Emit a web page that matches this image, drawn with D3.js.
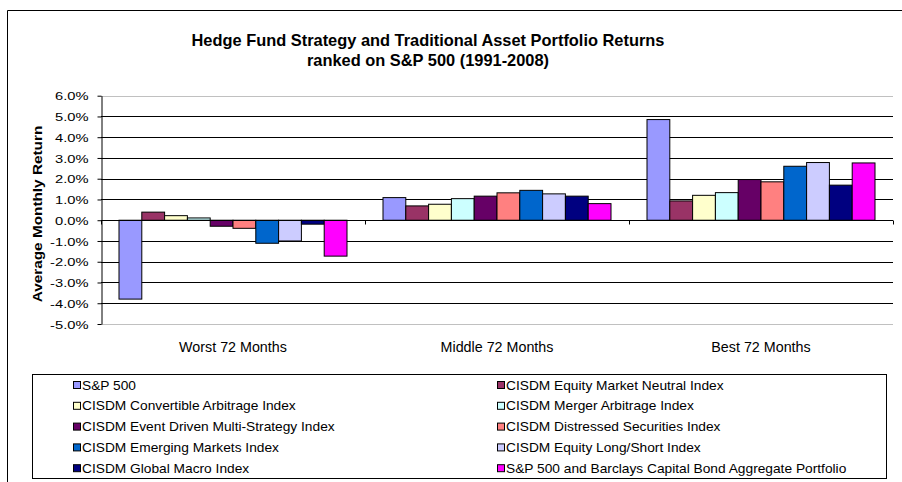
<!DOCTYPE html>
<html>
<head>
<meta charset="utf-8">
<script src="https://cdn.jsdelivr.net/npm/d3@7"></script>
<style>
  body { margin: 0; background: #fff; }
  svg { display: block; font-family: "Liberation Sans", Arial, sans-serif; }
</style>
</head>
<body>
<script>
// categories and series, values in % average monthly return
const categories = ["Worst 72 Months", "Middle 72 Months", "Best 72 Months"];
const seriesNames = [
  "S&P 500",
  "CISDM Equity Market Neutral Index",
  "CISDM Convertible Arbitrage Index",
  "CISDM Merger Arbitrage Index",
  "CISDM Event Driven Multi-Strategy Index",
  "CISDM Distressed Securities Index",
  "CISDM Emerging Markets Index",
  "CISDM Equity Long/Short Index",
  "CISDM Global Macro Index",
  "S&P 500 and Barclays Capital Bond Aggregate Portfolio"
];
const seriesColors = ["#9999FF", "#993366", "#FFFFCC", "#CCFFFF", "#660066",
                      "#FF8080", "#0066CC", "#CCCCFF", "#000080", "#FF00FF"];

const sp500          = [-3.80, 1.09, 4.85];
const equityMktNeut  = [ 0.39, 0.69, 0.93];
const convertArb     = [ 0.22, 0.77, 1.20];
const mergerArb      = [ 0.11, 1.04, 1.33];
const eventDriven    = [-0.29, 1.16, 1.96];
const distressed     = [-0.39, 1.32, 1.85];
const emergingMkts   = [-1.11, 1.44, 2.60];
const longShort      = [-1.00, 1.27, 2.78];
const globalMacro    = [-0.19, 1.16, 1.69];
const stockBondPort  = [-1.73, 0.80, 2.76];

const seriesValues = [sp500, equityMktNeut, convertArb, mergerArb, eventDriven,
                      distressed, emergingMkts, longShort, globalMacro, stockBondPort];

const yTickValues = [6, 5, 4, 3, 2, 1, 0, -1, -2, -3, -4, -5];

const W = 902, H = 482;
const plot = {left: 101, right: 893, top: 95.7, bottom: 324};

const svg = d3.select("body").append("svg")
  .attr("width", W).attr("height", H);

// outer chart border (right/bottom cropped off)
svg.append("path")
  .attr("d", "M7.5," + H + " V10.5 H" + W)
  .attr("fill", "none").attr("stroke", "#000").attr("stroke-width", 1);

// scales
const x0 = d3.scaleBand().domain(categories).range([plot.left, plot.right]).padding(0);
const groupPad = 18;
const x1 = d3.scaleBand().domain(seriesNames)
  .range([groupPad, x0.bandwidth() - groupPad]).padding(0);
const y = d3.scaleLinear().domain([-5, 6]).range([plot.bottom, plot.top]);

// gridlines
svg.append("g").selectAll("line")
  .data(yTickValues)
  .enter().append("line")
  .attr("x1", plot.left).attr("x2", plot.right)
  .attr("y1", d => Math.round(y(d)) + 0.5).attr("y2", d => Math.round(y(d)) + 0.5)
  .attr("stroke", d => (d === 6 || d === -5) ? "#c0c0c0" : "#000")
  .attr("stroke-width", 1);

// bars
const groups = svg.append("g").selectAll("g")
  .data(categories)
  .enter().append("g")
  .attr("transform", d => "translate(" + x0(d) + ",0)");

groups.selectAll("rect")
  .data((c, ci) => seriesNames.map((s, si) => ({s: s, si: si, v: seriesValues[si][ci]})))
  .enter().append("rect")
  .attr("x", d => x1(d.s))
  .attr("y", d => y(Math.max(0, d.v)))
  .attr("width", x1.bandwidth())
  .attr("height", d => Math.abs(y(d.v) - y(0)))
  .attr("fill", d => seriesColors[d.si])
  .attr("stroke", "#000")
  .attr("stroke-width", 1);

// x axis line at zero + tick marks between categories
const y0 = Math.round(y(0)) + 0.5;
svg.append("line")
  .attr("x1", plot.left).attr("x2", plot.right)
  .attr("y1", y0).attr("y2", y0)
  .attr("stroke", "#000");
const bounds = categories.map(c => x0(c)).concat([x0.range()[1]]);
svg.append("g").selectAll("line")
  .data(bounds)
  .enter().append("line")
  .attr("x1", d => Math.round(d) + 0.5).attr("x2", d => Math.round(d) + 0.5)
  .attr("y1", y0).attr("y2", y0 + 4)
  .attr("stroke", "#000");

// category labels
svg.append("g").selectAll("text")
  .data(categories)
  .enter().append("text")
  .attr("x", d => x0(d) + x0.bandwidth() / 2)
  .attr("y", 352)
  .attr("text-anchor", "middle")
  .attr("font-size", 14.3)
  .attr("fill", "#000")
  .text(d => d);

// y axis
const yAxis = svg.append("g")
  .attr("transform", "translate(" + (plot.left + 0.5) + ",0)")
  .call(d3.axisLeft(y)
    .tickValues(yTickValues)
    .tickSize(4)
    .tickSizeOuter(0)
    .tickFormat(d => d.toFixed(1) + "%"));
yAxis.select(".domain").attr("stroke", "#000");
yAxis.selectAll(".tick line").attr("stroke", "#000");
yAxis.selectAll(".tick text")
  .attr("x", 0)
  .attr("dy", "0.36em")
  .attr("transform", "translate(-13,0) scale(1.28,1)")
  .attr("font-size", 11.5)
  .attr("font-family", "Liberation Sans, Arial, sans-serif")
  .attr("fill", "#000");

// y axis title
svg.append("text")
  .attr("transform", "translate(42,214) rotate(-90) scale(1.18,1)")
  .attr("text-anchor", "middle")
  .attr("font-size", 13)
  .attr("font-weight", "bold")
  .text("Average Monthly Return");

// title
const title = svg.append("text")
  .attr("text-anchor", "middle")
  .attr("font-size", 16.4)
  .attr("font-weight", "bold");
title.append("tspan").attr("x", 428).attr("y", 46)
  .text("Hedge Fund Strategy and Traditional Asset Portfolio Returns");
title.append("tspan").attr("x", 428).attr("y", 66)
  .text("ranked on S&P 500 (1991-2008)");

// legend
svg.append("rect")
  .attr("x", 32.5).attr("y", 374.5)
  .attr("width", 854).attr("height", 104)
  .attr("fill", "#fff").attr("stroke", "#000");

const legendCols = [73, 497];
const legendRow0 = 385, legendRowStep = 20.8;
const legend = svg.append("g").selectAll("g")
  .data(seriesNames)
  .enter().append("g")
  .attr("transform", (d, i) => "translate(" + legendCols[i % 2] + "," +
        (legendRow0 + Math.floor(i / 2) * legendRowStep) + ")");
legend.append("rect")
  .attr("x", 0.5).attr("y", -3.5)
  .attr("width", 7).attr("height", 7)
  .attr("fill", (d, i) => seriesColors[i])
  .attr("stroke", "#000");
legend.append("text")
  .attr("transform", "translate(9,4.5) scale(1.1,1)")
  .attr("font-size", 12.5)
  .text(d => d);
</script>
</body>
</html>
